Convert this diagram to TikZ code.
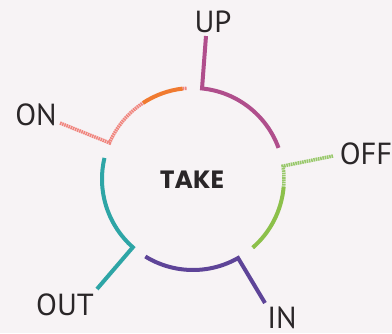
\documentclass[tikz,border=0pt]{standalone}
\usepackage{fontspec}
\setmainfont{PT Sans}
\newfontfamily\takefont{Poppins}
\definecolor{bg}{HTML}{F7F3F5}
\definecolor{textc}{HTML}{2A2628}
\definecolor{upc}{HTML}{B04E8C}
\definecolor{greenc}{HTML}{8CC04A}
\definecolor{greenlt}{HTML}{98C86A}
\definecolor{purplec}{HTML}{5E4498}
\definecolor{tealc}{HTML}{2EA5A6}
\definecolor{orangec}{HTML}{F07A30}
\definecolor{salmon}{HTML}{F0857E}
\begin{document}
\begin{tikzpicture}[x=1pt,y=1pt,
  ring/.style={line width=4pt, line join=miter},
  texture/.style={line width=3.5pt, dash pattern=on 1.6pt off 0.7pt},
  lbl/.style={font=\fontsize{30.5}{30.5}\selectfont, text=textc, inner sep=0pt, anchor=base}]
\fill[bg] (0,0) rectangle (392,-333);
\useasboundingbox (0,0) rectangle (392,-333);
\coordinate (C) at (193,-179);
% arc points
\coordinate (upA) at ([shift={(84.3:91)}]C);
\coordinate (offA) at ([shift={(8.2:91)}]C);
\coordinate (offB) at ([shift={(-5:91)}]C);
\coordinate (inA) at ([shift={(-60.3:91)}]C);
\coordinate (outA) at ([shift={(228.6:91)}]C);
\coordinate (onA) at ([shift={(156.6:91)}]C);
\coordinate (onB) at ([shift={(123.3:91)}]C);
% spoke ends
\coordinate (upE) at (206,-36);
\coordinate (offE) at (333,-156);
\coordinate (inE) at (265,-303);
\coordinate (outE) at (97,-289);
\coordinate (onE) at (60,-123);
% labels
\node[lbl] (up) at (213,-32) {UP};
\node[lbl] (on) at (36,-125) {ON};
\node[lbl] (off) at (366,-164) {OFF};
\node[lbl] (out) at (65,-315) {OUT};
\node[lbl] (in) at (282,-328) {IN};
\node[inner sep=0pt, anchor=base, text=textc, font=\takefont\bfseries\fontsize{25}{25}\selectfont] (take) at (192,-188) {TAKE};
% UP
\draw[ring, upc] (upE) -- (upA) arc[start angle=84.3, end angle=20, radius=91pt];
% OFF
\draw[texture, greenlt] (offE) -- (offA) arc[start angle=8.2, end angle=-5, radius=91pt];
\draw[ring, greenc] (offB) arc[start angle=-5, end angle=-49, radius=91pt];
% IN
\draw[ring, purplec] (inE) -- (inA) arc[start angle=-60.3, end angle=-121.6, radius=91pt];
% OUT
\draw[ring, tealc] (outE) -- (outA) arc[start angle=228.6, end angle=166.6, radius=91pt];
% ON
\draw[texture, salmon] (onE) -- (onA) arc[start angle=156.6, end angle=123.3, radius=91pt];
\draw[ring, orangec] (onB) arc[start angle=123.3, end angle=96.5, radius=91pt];
\draw[texture, salmon] ([shift={(96.5:91)}]C) arc[start angle=96.5, end angle=93.8, radius=91pt];
\end{tikzpicture}
\end{document}
